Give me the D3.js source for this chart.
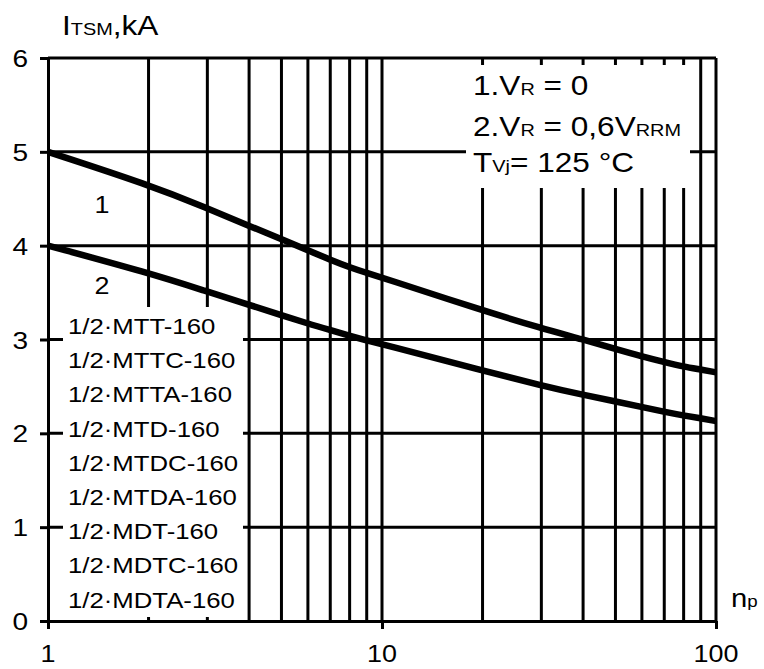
<!DOCTYPE html>
<html>
<head>
<meta charset="utf-8">
<script src="https://cdn.jsdelivr.net/npm/d3@7"></script>
<style>
  body { margin: 0; background: #fff; }
  text { font-family: "Liberation Sans", Arial, sans-serif; fill: #000; }
</style>
</head>
<body>
<div id="chart"></div>
<script>
// data (number of pulses vs surge current)
const pulses = [1, 2, 3, 4, 5, 6, 7, 8, 9, 10, 20, 30, 40, 50, 60, 70, 80, 90, 100];
const curve1 = [5.0, 4.65, 4.40, 4.21, 4.07, 3.95, 3.85, 3.77, 3.71, 3.66, 3.31, 3.12, 3.00, 2.90, 2.82, 2.76, 2.71, 2.68, 2.65];
const curve2 = [4.0, 3.71, 3.51, 3.37, 3.26, 3.17, 3.10, 3.04, 2.99, 2.95, 2.67, 2.51, 2.41, 2.34, 2.28, 2.23, 2.19, 2.16, 2.13];
const yTicks = [0, 1, 2, 3, 4, 5, 6];
const xTicks = [1, 10, 100];
const xMinor = [2, 3, 4, 5, 6, 7, 8, 9, 10, 20, 30, 40, 50, 60, 70, 80, 90];
const deviceNames = ["1/2·MTT-160", "1/2·MTTC-160", "1/2·MTTA-160", "1/2·MTD-160", "1/2·MTDC-160",
                     "1/2·MTDA-160", "1/2·MDT-160", "1/2·MDTC-160", "1/2·MDTA-160"];

const W = 764, H = 669;
const SX = 1.17; // the scan is a little wider than a normal font

const svg = d3.select("#chart").append("svg")
    .attr("width", W)
    .attr("height", H);

const x = d3.scaleLog().domain([1, 100]).range([48, 716]);
const y = d3.scaleLinear().domain([0, 6]).range([621, 58]);

function txt(px, py, size, anchor) {
    return svg.append("text")
        .attr("transform", `translate(${px},${py}) scale(${SX},1)`)
        .style("font-size", size + "px")
        .style("text-anchor", anchor || "start");
}

// grid
const grid = svg.append("g").attr("stroke", "#000").attr("stroke-width", 3);
grid.selectAll(".vg").data(xMinor).enter().append("line")
    .attr("class", "vg")
    .attr("x1", d => x(d)).attr("x2", d => x(d))
    .attr("y1", y(6)).attr("y2", y(0));
grid.selectAll(".hg").data(yTicks.slice(1, 6)).enter().append("line")
    .attr("class", "hg")
    .attr("x1", x(1)).attr("x2", x(100))
    .attr("y1", d => y(d)).attr("y2", d => y(d));

// white boxes behind the texts
svg.append("rect").attr("x", 63).attr("y", 307).attr("width", 180).attr("height", 310).attr("fill", "#fff");
svg.append("rect").attr("x", 466).attr("y", 65).attr("width", 224).attr("height", 123).attr("fill", "#fff");

// axes
const yAxis = d3.axisLeft(y).tickValues(yTicks).tickSize(8).tickSizeOuter(0).tickFormat("");
const xAxis = d3.axisBottom(x).tickValues(xTicks).tickSize(8).tickSizeOuter(0).tickFormat("");
svg.append("g").attr("transform", `translate(${x(1)},0)`).call(yAxis);
svg.append("g").attr("transform", `translate(0,${y(0)})`).call(xAxis);
svg.selectAll(".domain, .tick line").attr("stroke", "#000").attr("stroke-width", 3);
// frame: top and right
svg.append("line").attr("x1", x(1)).attr("x2", x(100)).attr("y1", y(6)).attr("y2", y(6))
    .attr("stroke", "#000").attr("stroke-width", 3);
svg.append("line").attr("x1", x(100)).attr("x2", x(100)).attr("y1", y(6)).attr("y2", y(0))
    .attr("stroke", "#000").attr("stroke-width", 3);

// tick labels
yTicks.forEach(v => txt(28, y(v) + 9, 24, "end").text(v));
xTicks.forEach(v => txt(x(v), 662, 23, "middle").text(v));

// curves
const line = d3.line()
    .x((d, i) => x(pulses[i]))
    .y(d => y(d))
    .curve(d3.curveBasis);
[curve1, curve2].forEach(c => {
    svg.append("path")
        .datum(c)
        .attr("d", line)
        .attr("fill", "none")
        .attr("stroke", "#000")
        .attr("stroke-width", 6.5);
});

// curve numbers
txt(102, 213, 23, "middle").text("1");
txt(102, 294, 23, "middle").text("2");

// device list
deviceNames.forEach((n, i) => txt(68, 334 + i * 34.2, 22).text(n));

// y label
let t = txt(62, 35, 27);
t.append("tspan").text("I");
t.append("tspan").style("font-size", "17px").text("TSM");
t.append("tspan").text(",kA");

// x label
t = txt(731, 607, 25);
t.append("tspan").text("n");
t.append("tspan").style("font-size", "16px").text("p");

// conditions
t = txt(473, 95, 27);
t.append("tspan").text("1.V");
t.append("tspan").style("font-size", "17px").text("R");
t.append("tspan").text(" = 0");
t = txt(473, 136, 27);
t.append("tspan").text("2.V");
t.append("tspan").style("font-size", "17px").text("R");
t.append("tspan").text(" = 0,6V");
t.append("tspan").style("font-size", "17px").text("RRM");
t = txt(473, 172, 27);
t.append("tspan").text("T");
t.append("tspan").style("font-size", "17px").text("Vj");
t.append("tspan").text("= 125 °C");
</script>
</body>
</html>
